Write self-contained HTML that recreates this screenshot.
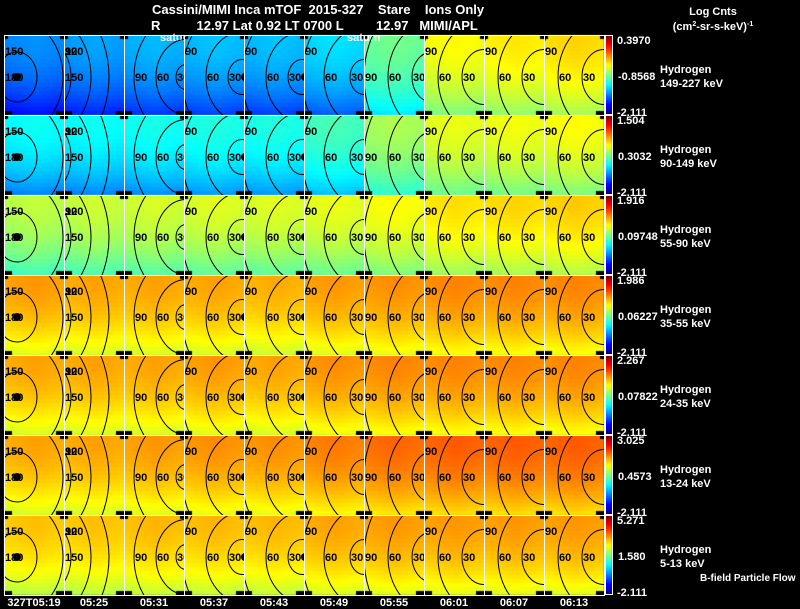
<!DOCTYPE html>
<html><head><meta charset="utf-8">
<style>
html,body{margin:0;padding:0;background:#000;width:800px;height:609px;overflow:hidden;}
#wrap{position:relative;width:800px;height:609px;background:#000;overflow:hidden;font-family:"Liberation Sans",sans-serif;}
canvas{position:absolute;left:0;top:0;display:block;}
svg{position:absolute;left:0;top:0;display:block;}
</style></head>
<body>
<div id="wrap">
<canvas id="cv" width="800" height="609"></canvas>
<svg id="sv" width="800" height="609" xmlns="http://www.w3.org/2000/svg">
<g font-weight="bold" fill="#fff" font-size="13">
<text x="152" y="14" xml:space="preserve" style="white-space:pre">Cassini/MIMI Inca mTOF  2015-327    Stare    Ions Only</text>
<text x="151" y="30" xml:space="preserve" style="white-space:pre">R          12.97 Lat 0.92 LT 0700 L         12.97   MIMI/APL</text>
<text x="160" y="41" font-size="11">satur</text>
<text x="347" y="41" font-size="11">saturn</text>
<text x="713" y="15" font-size="11" text-anchor="middle">Log Cnts</text>
<text x="713" y="30" font-size="11" text-anchor="middle">(cm<tspan font-size="7" dy="-4">2</tspan><tspan dy="4">-sr-s-keV)</tspan><tspan font-size="7" dy="-4">-1</tspan></text>
<text x="700" y="581" font-size="10">B-field Particle Flow</text>
</g>
<g id="ov"></g>
</svg>
</div>
<script>
// ---- data ----
const timeLabels = ["327T05:19","05:25","05:31","05:37","05:43","05:49","05:55","06:01","06:07","06:13"];
const species = ["Hydrogen","Hydrogen","Hydrogen","Hydrogen","Hydrogen","Hydrogen","Hydrogen"];
const energyLabels = ["149-227 keV","90-149 keV","55-90 keV","35-55 keV","24-35 keV","13-24 keV","5-13 keV"];
const cbMax = ["0.3970","1.504","1.916","1.986","2.267","3.025","5.271"];
const cbMid = ["-0.8568","0.3032","0.09748","0.06227","0.07822","0.4573","1.580"];
const cbMin = ["-2.111","-2.111","-2.111","-2.111","-2.111","-2.111","-2.111"];
// colour level (0 = blue, 1 = red) per row per column
const levels = [
 [0.24,0.26,0.28,0.29,0.29,0.32,0.46,0.60,0.62,0.64],
 [0.36,0.36,0.37,0.38,0.38,0.42,0.52,0.58,0.59,0.60],
 [0.54,0.55,0.56,0.57,0.57,0.58,0.60,0.63,0.64,0.65],
 [0.70,0.69,0.69,0.69,0.68,0.70,0.71,0.72,0.72,0.72],
 [0.69,0.69,0.69,0.70,0.69,0.71,0.72,0.72,0.72,0.72],
 [0.69,0.69,0.70,0.71,0.71,0.73,0.75,0.76,0.76,0.76],
 [0.66,0.66,0.67,0.67,0.67,0.69,0.70,0.70,0.70,0.70]
];
// contour geometry per column: centre x (relative to panel), ring radii, labels
const ringCx = [13,-25,62,58,58,60,68,60,60,60];
const ringR = [[20,46],[32,52,70],[10,30,52],[14,36,60],[14,36,60],[14,40,62],[20,44,68],[22,46,66],[22,46,66],[22,46,66]];
const ringLab = [["180","150"],["150","120","90"],["30","60","90"],["30","60","90"],["30","60","90"],["30","60","90"],["30","60","90"],["30","60","90"],["30","60","90"],["30","60","90"]];

// ---- layout ----
const X0=4, PW=60, Y0=35, PH=80, NC=10, NR=7, CELL=4;
function jet(v){v=Math.max(0,Math.min(1,v));const c=x=>Math.round(255*Math.max(0,Math.min(1,1.5-Math.abs(x))));return `rgb(${c(4*v-3)},${c(4*v-2)},${c(4*v-1)})`;}
const cv=document.getElementById('cv'),ctx=cv.getContext('2d');
const ov=document.getElementById('ov');const NS='http://www.w3.org/2000/svg';
function mk(tag,attrs,parent){const e=document.createElementNS(NS,tag);for(const k in attrs)e.setAttribute(k,attrs[k]);(parent||ov).appendChild(e);return e;}

for(let r=0;r<NR;r++){
 for(let c=0;c<NC;c++){
  const px=X0+c*PW, py=Y0+r*PH, lv=levels[r][c];
  const nx=PW/CELL, ny=PH/CELL;
  for(let i=0;i<nx;i++)for(let j=0;j<ny;j++){
   const corner=(i<1||i>=nx-1)&&(j<1||j>=ny-1);
   const bottom=(j>=ny-1)&&(i<2||i>nx-3);
   if(corner||bottom){ctx.fillStyle='#000';}
   else{const v=lv+0.03-0.14*(j/ny)*(j/ny)-0.03*Math.abs(i-nx/2)/nx;ctx.fillStyle=jet(v);}
   ctx.fillRect(px+i*CELL,py+j*CELL,CELL,CELL);
  }
  const g=mk('g',{'clip-path':`url(#clip${r}_${c})`});
  
  
  const cp=mk('clipPath',{id:`clip${r}_${c}`});
  mk('rect',{x:px,y:py,width:PW,height:PH},cp);
  const cx=px+ringCx[c], cy=py+42;
  ringR[c].forEach((rad,k)=>{
   const el=mk('ellipse',{cx:cx,cy:cy,rx:rad,ry:rad*1.25,fill:'none',stroke:'#000','stroke-width':1},g);
   
   
   let lx=cx-rad+1, ly=cy+4;
   if(lx<px+1){lx=px+1; ly=(k===0)?cy+4:py+20;}
   const t=mk('text',{x:lx,y:ly,'font-size':11,'font-weight':'bold',fill:'#000','font-family':'Liberation Sans, sans-serif'},g);
   t.textContent=ringLab[c][k];
   
   
  });
  if(ringCx[c]>0&&ringCx[c]<PW){const d=mk('circle',{cx:cx+(c===0?0:3),cy:cy,r:4,fill:'#000'},g);
   }
  const b=mk('rect',{x:px+0.5,y:py+0.5,width:PW,height:PH,fill:'none',stroke:'#fff','stroke-width':1});
  
  
 }
 const cbx=605, py=Y0+r*PH;
 for(let j=0;j<PH;j++){ctx.fillStyle=jet(1-j/(PH-1));ctx.fillRect(cbx,py+j,7,1);}
 const cbf=mk('rect',{x:cbx+0.5,y:py+0.5,width:7,height:PH-1,fill:'none',stroke:'#fff','stroke-width':1});
 
 
 const tmax=mk('text',{x:617,y:py+9,'font-size':11,'font-weight':'bold',fill:'#fff'});tmax.textContent=cbMax[r];
 
 const tmid=mk('text',{x:618,y:py+45,'font-size':11,'font-weight':'bold',fill:'#fff'});tmid.textContent=cbMid[r];
 
 const tmin=mk('text',{x:617,y:py+81,'font-size':11,'font-weight':'bold',fill:'#fff'});tmin.textContent=cbMin[r];
 
 const s1=mk('text',{x:660,y:py+38,'font-size':11,'font-weight':'bold',fill:'#fff'});s1.textContent=species[r];
 
 const s2=mk('text',{x:660,y:py+52,'font-size':11,'font-weight':'bold',fill:'#fff'});s2.textContent=energyLabels[r];
 
}
timeLabels.forEach((t,c)=>{
 const x=X0+c*PW+PW/2;
 const e=mk('text',{x:x,y:606,'font-size':11,'font-weight':'bold',fill:'#fff','text-anchor':'middle'});
 e.textContent=t;
 
 
});
</script>
</body></html>
